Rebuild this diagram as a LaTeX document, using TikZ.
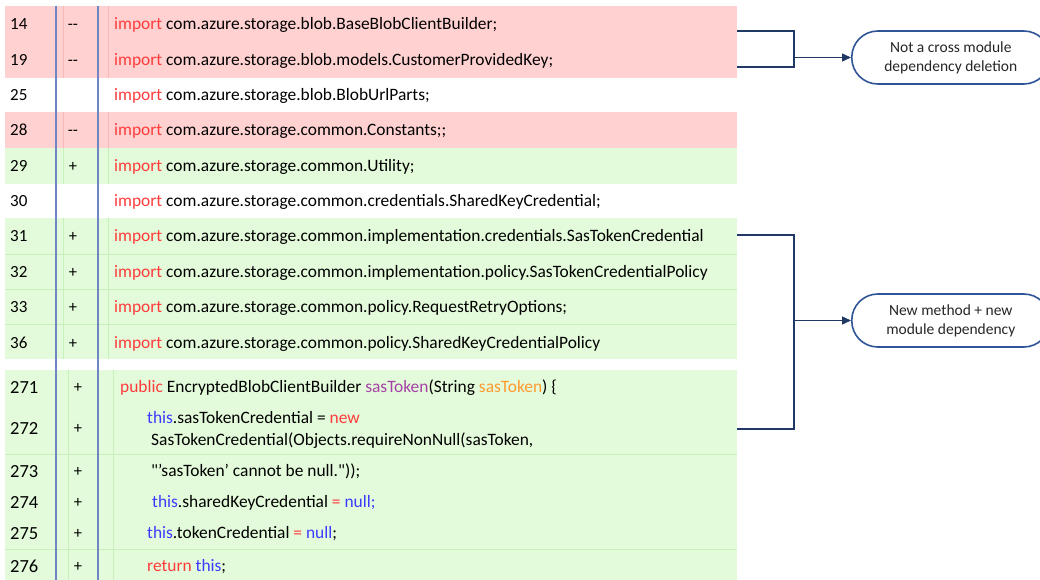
\documentclass[tikz,border=0pt]{standalone}
\usepackage{fontspec}
\setmainfont{Carlito}[Ligatures=TeXOff]
\usetikzlibrary{arrows.meta}
\definecolor{pinkbg}{RGB}{255,209,209}
\definecolor{pinkln}{RGB}{246,184,184}
\definecolor{greenbg}{RGB}{227,251,218}
\definecolor{greenln}{RGB}{200,240,186}
\definecolor{bluevl}{RGB}{112,134,196}
\definecolor{navy}{RGB}{31,56,100}
\definecolor{stadb}{RGB}{47,85,151}
\definecolor{kwred}{RGB}{255,59,59}
\definecolor{kwblue}{RGB}{59,59,255}
\definecolor{kwpurple}{RGB}{166,64,166}
\definecolor{kworange}{RGB}{255,154,46}
\newcommand{\kr}[1]{\textcolor{kwred}{#1}}
\newcommand{\kb}[1]{\textcolor{kwblue}{#1}}
\newcommand{\kp}[1]{\textcolor{kwpurple}{#1}}
\newcommand{\ko}[1]{\textcolor{kworange}{#1}}
\begin{document}
\begin{tikzpicture}[x=1pt,y=-1pt,
  numtxt/.style={anchor=base west,inner sep=0pt,font=\fontsize{17}{20}\selectfont},
  numtxtb/.style={anchor=base west,inner sep=0pt,font=\fontsize{18.5}{21}\selectfont},
  signtxt/.style={anchor=base,inner sep=0pt,font=\fontsize{16.5}{19}\selectfont},
  codetxt/.style={anchor=base west,inner sep=0pt,font=\fontsize{17.4}{20}\selectfont},
  codetxtb/.style={anchor=base west,inner sep=0pt,font=\fontsize{17.4}{20}\selectfont},
  conn/.style={draw=navy,line width=1.3pt},
  arr/.style={conn,-{Triangle[length=9pt,width=8pt]}},
  stadium/.style={draw=stadb,line width=1.6pt,fill=white,rounded corners=26pt,minimum width=198pt,minimum height=53pt,align=center,font=\fontsize{15.5}{19}\selectfont,text=black!85}
]
\useasboundingbox (0,0) rectangle (1040,580);
\clip (0,0) rectangle (1040,580);
% ---- table 1 backgrounds
\fill[pinkbg] (5,6) rectangle (737,78);
\fill[pinkbg] (5,112) rectangle (737,148);
\fill[greenbg] (5,148) rectangle (737,184);
\fill[greenbg] (5,218) rectangle (737,359);
% light vertical lines
\foreach \xx in {63,108}{
  \draw[pinkln,line width=0.8pt] (\xx,6) -- (\xx,78);
  \draw[pinkln,line width=0.8pt] (\xx,112) -- (\xx,148);
  \draw[greenln,line width=0.8pt] (\xx,148) -- (\xx,184);
  \draw[greenln,line width=0.8pt] (\xx,218) -- (\xx,359);
}
\foreach \yy in {254,289,324}{
  \draw[greenln,line width=0.8pt] (5,\yy) -- (737,\yy);
}
% ---- table 2 backgrounds
\fill[greenbg] (5,370) rectangle (737,580);
\foreach \xx in {68,113}{
  \draw[greenln,line width=0.8pt] (\xx,370) -- (\xx,580);
}
\foreach \yy in {454,549}{
  \draw[greenln,line width=0.8pt] (5,\yy) -- (737,\yy);
}
% blue vertical lines
\draw[bluevl,line width=1.4pt] (56,6) -- (56,580);
\draw[bluevl,line width=1.4pt] (98,6) -- (98,580);
% ---- table 1 text
\node[numtxt] (n14) at (10,29.5) {14};
\node[signtxt] (s14) at (73,29.5) {--};
\node[codetxt] (c14) at (114,29.5) {\kr{import} com.azure.storage.blob.BaseBlobClientBuilder;};
\node[numtxt] (n19) at (10,65.5) {19};
\node[signtxt] (s19) at (73,65.5) {--};
\node[codetxt] (c19) at (114,65.5) {\kr{import} com.azure.storage.blob.models.CustomerProvidedKey;};
\node[numtxt] (n25) at (10,100.5) {25};
\node[codetxt] (c25) at (114,100.5) {\kr{import} com.azure.storage.blob.BlobUrlParts;};
\node[numtxt] (n28) at (10,135.5) {28};
\node[signtxt] (s28) at (73,135.5) {--};
\node[codetxt] (c28) at (114,135.5) {\kr{import} com.azure.storage.common.Constants;;};
\node[numtxt] (n29) at (10,171.5) {29};
\node[signtxt] (s29) at (73,171.5) {+};
\node[codetxt] (c29) at (114,171.5) {\kr{import} com.azure.storage.common.Utility;};
\node[numtxt] (n30) at (10,206.5) {30};
\node[codetxt] (c30) at (114,206.5) {\kr{import} com.azure.storage.common.credentials.SharedKeyCredential;};
\node[numtxt] (n31) at (10,241.5) {31};
\node[signtxt] (s31) at (73,241.5) {+};
\node[codetxt] (c31) at (114,241.5) {\kr{import} com.azure.storage.common.implementation.credentials.SasTokenCredential};
\node[numtxt] (n32) at (10,277) {32};
\node[signtxt] (s32) at (73,277) {+};
\node[codetxt] (c32) at (114,277) {\kr{import} com.azure.storage.common.implementation.policy.SasTokenCredentialPolicy};
\node[numtxt] (n33) at (10,312) {33};
\node[signtxt] (s33) at (73,312) {+};
\node[codetxt] (c33) at (114,312) {\kr{import} com.azure.storage.common.policy.RequestRetryOptions;};
\node[numtxt] (n36) at (10,348) {36};
\node[signtxt] (s36) at (73,348) {+};
\node[codetxt] (c36) at (114,348) {\kr{import} com.azure.storage.common.policy.SharedKeyCredentialPolicy};
% ---- table 2 text
\node[numtxtb] (n271) at (10,393) {271};
\node[signtxt] (s271) at (78,392) {+};
\node[codetxtb] (c271) at (120,392) {\kr{public} EncryptedBlobClientBuilder \kp{sasToken}(String \ko{sasToken}) \{};
\node[numtxtb] (n272) at (10,434) {272};
\node[signtxt] (s272) at (78,433) {+};
\node[codetxtb] (c272a) at (147,423) {\kb{this}.sasTokenCredential = \kr{new}};
\node[codetxtb] (c272b) at (151,445) {SasTokenCredential(Objects.requireNonNull(sasToken,};
\node[numtxtb] (n273) at (10,477) {273};
\node[signtxt] (s273) at (78,476) {+};
\node[codetxtb] (c273) at (151,476) {"’sasToken’ cannot be null."));};
\node[numtxtb] (n274) at (10,508) {274};
\node[signtxt] (s274) at (78,507) {+};
\node[codetxtb] (c274) at (152,507) {\kb{this}.sharedKeyCredential \kr{=} \kb{null;}};
\node[numtxtb] (n275) at (10,539) {275};
\node[signtxt] (s275) at (78,538) {+};
\node[codetxtb] (c275) at (147,538) {\kb{this}.tokenCredential \kr{=} \kb{null};};
\node[numtxtb] (n276) at (10,572) {276};
\node[signtxt] (s276) at (78,571) {+};
\node[codetxtb] (c276) at (147,571) {\kr{return} \kb{this};};
% ---- callouts
\node[stadium,anchor=west] (st1) at (851,57.5) {Not a cross module\\dependency deletion};
\node[stadium,anchor=west] (st2) at (851,320.5) {New method + new\\module dependency};
\coordinate (b14) at (737,31);
\coordinate (b19) at (737,67);
\coordinate (j1) at (794,57.5);
\draw[conn] (b14) -| (j1) |- (b19);
\draw[arr] (j1) -- (st1.west);
\coordinate (b31) at (737,235);
\coordinate (b272) at (737,429);
\coordinate (j2) at (794,320.5);
\draw[conn] (b31) -| (j2) |- (b272);
\draw[arr] (j2) -- (st2.west);
\end{tikzpicture}
\end{document}
